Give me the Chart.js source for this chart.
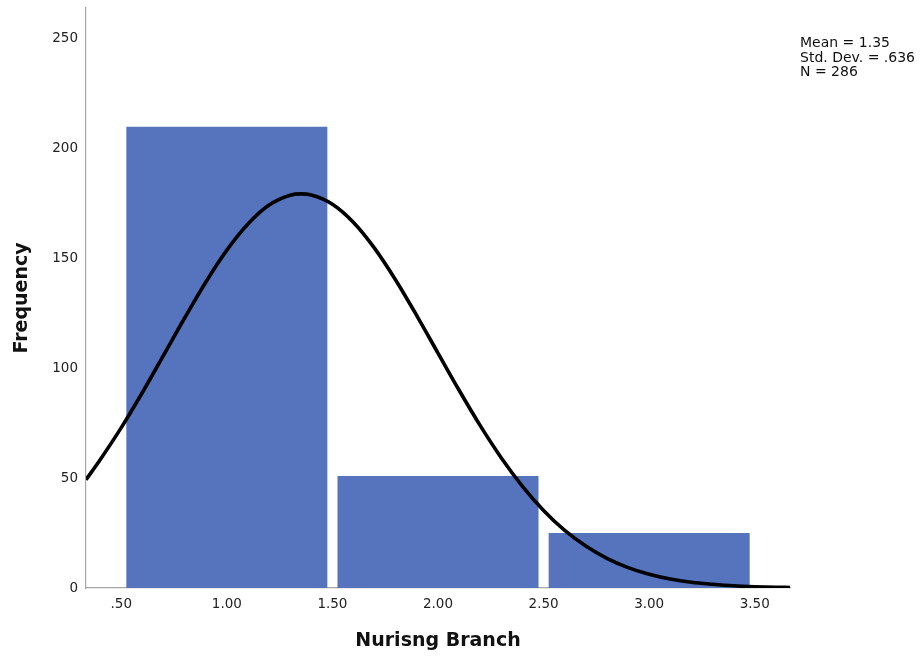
<!DOCTYPE html>
<html>
<head>
<meta charset="utf-8">
<script src="https://cdn.jsdelivr.net/npm/chart.js@4/dist/chart.umd.min.js"></script>
<style>
  html, body { margin: 0; padding: 0; background: #ffffff; }
  #wrap { width: 924px; height: 661px; }
</style>
</head>
<body>
<div id="wrap"><canvas id="hist" width="924" height="661"></canvas></div>
<script>
// Histogram of nursing branch codes with a fitted normal curve
const binCenters = [1, 2, 3];
const binCounts = [210, 51, 25];

// Normal curve traced across the axis range
const curveX = [0.333, 0.4, 0.5, 0.6, 0.7, 0.8, 0.9, 1.0, 1.1, 1.2, 1.3, 1.35, 1.4, 1.5, 1.6, 1.7, 1.8, 1.9,
                2.0, 2.1, 2.2, 2.3, 2.4, 2.5, 2.6, 2.7, 2.8, 2.9, 3.0, 3.1, 3.2, 3.3, 3.4, 3.5, 3.6, 3.667];
const curveY = [49.3, 58.4, 73.0, 89.0, 105.9, 122.9, 139.2, 153.8, 165.7, 174.3, 178.8, 179.4, 178.9, 174.7, 166.4, 154.6, 140.1, 123.9,
                106.9, 90.0, 73.9, 59.2, 46.3, 35.3, 26.2, 19.1, 13.5, 9.3, 6.3, 4.1, 2.6, 1.7, 1.0, 0.6, 0.35, 0.24];

const xTickValues = [0.5, 1.0, 1.5, 2.0, 2.5, 3.0, 3.5];
const xTickLabels = ['.50', '1.00', '1.50', '2.00', '2.50', '3.00', '3.50'];
const yTickValues = [0, 50, 100, 150, 200, 250];
const yTickLabels = ['0', '50', '100', '150', '200', '250'];

const xTitle = 'Nurisng Branch';
const yTitle = 'Frequency';
const summaryLines = ['Mean = 1.35', 'Std. Dev. = .636', 'N = 286'];

const barData = binCenters.map((c, i) => ({ x: c, y: binCounts[i] }));
const curveData = curveX.map((x, i) => ({ x: x, y: curveY[i] }));

const summaryBox = {
  id: 'summaryBox',
  afterDraw(chart) {
    const ctx = chart.ctx;
    ctx.save();
    ctx.fillStyle = '#111111';
    ctx.font = '14px "DejaVu Sans"';
    ctx.textAlign = 'left';
    ctx.textBaseline = 'middle';
    summaryLines.forEach((t, i) => ctx.fillText(t, 800, 43.5 + i * 14.5));
    ctx.restore();
  }
};

new Chart(document.getElementById('hist'), {
  type: 'bar',
  data: {
    datasets: [
      {
        type: 'line',
        data: curveData,
        borderColor: '#000000',
        borderWidth: 3.6,
        pointRadius: 0,
        cubicInterpolationMode: 'monotone',
        fill: false,
        order: 0
      },
      {
        type: 'bar',
        data: barData,
        backgroundColor: '#5574bd',
        borderWidth: 0,
        categoryPercentage: 1.0,
        // the tick spacing (0.5) sets the slot width, so each bin spans two slots
        barPercentage: 1.904,
        order: 1
      }
    ]
  },
  plugins: [summaryBox],
  options: {
    responsive: false,
    animation: false,
    layout: { padding: { left: 0, right: 134, top: 8, bottom: 0 } },
    plugins: {
      legend: { display: false },
      tooltip: { enabled: false }
    },
    scales: {
      x: {
        type: 'linear',
        offset: false,
        min: 0.333,
        max: 3.667,
        grid: { display: false, drawTicks: false, offset: false },
        border: { display: true, color: '#a6a6a6', width: 1.2 },
        afterBuildTicks: s => { s.ticks = xTickValues.map(v => ({ value: v })); },
        afterFit: s => { s.height = 73; s.paddingLeft = 0; s.paddingRight = 0; },
        ticks: {
          padding: 8,
          color: '#222222',
          font: { family: 'DejaVu Sans', size: 13.5 },
          autoSkip: false,
          maxRotation: 0,
          callback: (v) => xTickLabels[xTickValues.indexOf(v)] ?? ''
        },
        title: {
          display: true,
          text: xTitle,
          color: '#111111',
          font: { family: 'DejaVu Sans', size: 19, weight: 'bold' },
          padding: { top: 0, bottom: 9 }
        }
      },
      y: {
        type: 'linear',
        min: 0,
        max: 264,
        grid: { display: false, drawTicks: false },
        border: { display: true, color: '#a6a6a6', width: 1.2 },
        afterBuildTicks: s => { s.ticks = yTickValues.map(v => ({ value: v })); },
        afterFit: s => { s.width = 86; s.paddingTop = 0; s.paddingBottom = 0; },
        ticks: {
          padding: 8,
          color: '#222222',
          font: { family: 'DejaVu Sans', size: 13.5 },
          autoSkip: false,
          callback: (v) => yTickLabels[yTickValues.indexOf(v)] ?? ''
        },
        title: {
          display: true,
          text: yTitle,
          color: '#111111',
          font: { family: 'DejaVu Sans', size: 19, weight: 'bold' },
          padding: { top: 11, bottom: 0 }
        }
      }
    }
  }
});
</script>
</body>
</html>
